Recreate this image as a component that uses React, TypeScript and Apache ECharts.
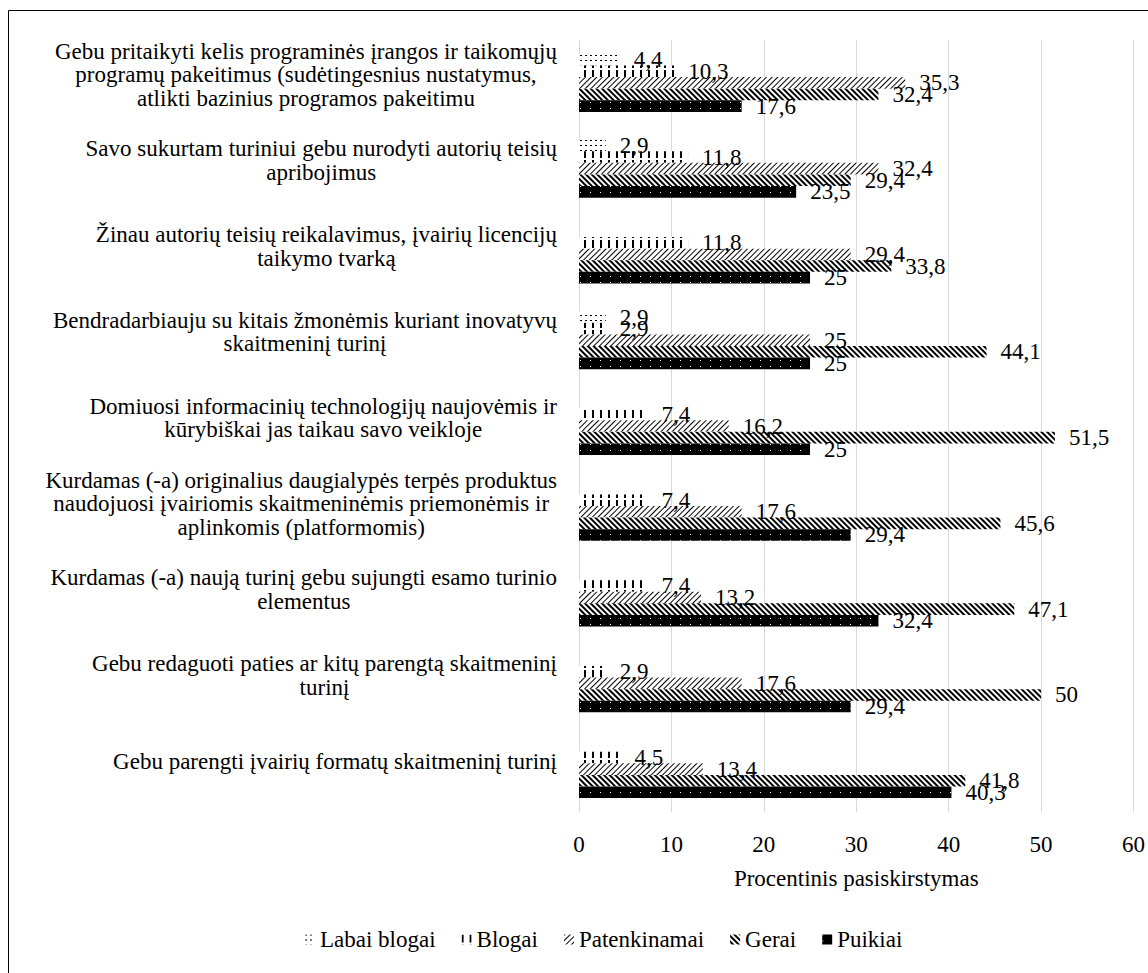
import React, { useEffect, useRef } from 'react';
import * as echarts from 'echarts';

const categories = [
  'Gebu pritaikyti kelis programinės įrangos ir taikomųjų\nprogramų pakeitimus (sudėtingesnius nustatymus,\natlikti bazinius programos pakeitimu',
  'Savo sukurtam turiniui gebu nurodyti autorių teisių\napribojimus',
  'Žinau autorių teisių reikalavimus, įvairių licencijų\ntaikymo tvarką',
  'Bendradarbiauju su kitais žmonėmis kuriant inovatyvų\nskaitmeninį turinį',
  'Domiuosi informacinių technologijų naujovėmis ir\nkūrybiškai jas taikau savo veikloje',
  'Kurdamas (-a) originalius daugialypės terpės produktus\nnaudojuosi įvairiomis skaitmeninėmis priemonėmis ir\naplinkomis (platformomis)',
  'Kurdamas (-a) naują turinį gebu sujungti esamo turinio\nelementus',
  'Gebu redaguoti paties ar kitų parengtą skaitmeninį\nturinį',
  'Gebu parengti įvairių formatų skaitmeninį turinį',
];

const seriesNames = ['Labai blogai', 'Blogai', 'Patenkinamai', 'Gerai', 'Puikiai'];
const labaiBlogai = [4.4, 2.9, null, 2.9, null, null, null, null, null];
const blogai = [10.3, 11.8, 11.8, 2.9, 7.4, 7.4, 7.4, 2.9, 4.5];
const patenkinamai = [35.3, 32.4, 29.4, 25, 16.2, 17.6, 13.2, 17.6, 13.4];
const gerai = [32.4, 29.4, 33.8, 44.1, 51.5, 45.6, 47.1, 50, 41.8];
const puikiai = [17.6, 23.5, 25, 25, 25, 29.4, 32.4, 29.4, 40.3];
const axisTitle = 'Procentinis pasiskirstymas';

const FONT = 'Liberation Serif, Times New Roman, serif';
const FS = 23;

const decals: any[] = [
  { symbol: 'rect', symbolSize: 1, dashArrayX: [2, 3], dashArrayY: [1, 4], color: '#000', backgroundColor: '#fff' },
  { symbol: 'rect', symbolSize: 1, dashArrayX: [1.5, 6], dashArrayY: [8, 2], color: '#000', backgroundColor: '#fff' },
  { symbol: 'rect', symbolSize: 1, dashArrayX: [1, 0], dashArrayY: [1, 3], rotation: -Math.PI / 4, color: '#000', backgroundColor: '#fff' },
  { symbol: 'rect', symbolSize: 1, dashArrayX: [1, 0], dashArrayY: [2, 2], rotation: Math.PI / 4, color: '#000', backgroundColor: '#fff' },
  { symbol: 'rect', symbolSize: 1, dashArrayX: [1, 9], dashArrayY: [1, 5], color: '#fff', backgroundColor: '#000' },
];

const seriesData = [labaiBlogai, blogai, patenkinamai, gerai, puikiai];

export default function App() {
  const ref = useRef<HTMLDivElement>(null);
  useEffect(() => {
    if (!ref.current) return;
    const chart = echarts.init(ref.current, undefined, { renderer: 'svg' });
    chart.setOption({
      animation: false,
      backgroundColor: '#fff',
      textStyle: { fontFamily: FONT },
      graphic: [
        {
          type: 'rect',
          shape: { x: 8.5, y: 10.5, width: 1400, height: 1400 },
          style: { fill: 'none', stroke: '#000', lineWidth: 1 },
          silent: true,
        },
      ],
      grid: { left: 579, right: 11, top: 40, bottom: 161, containLabel: false },
      xAxis: {
        type: 'value',
        min: 0,
        max: 60,
        interval: 10,
        axisLine: { show: false },
        axisTick: { show: false },
        splitLine: { show: true, lineStyle: { color: '#d9d9d9', width: 1 } },
        axisLabel: { fontFamily: FONT, fontSize: FS, color: '#000', margin: 21 },
        name: axisTitle,
        nameLocation: 'middle',
        nameGap: 55,
        nameTextStyle: { fontFamily: FONT, fontSize: FS, color: '#000' },
      },
      yAxis: {
        type: 'category',
        inverse: true,
        data: categories,
        axisLine: { show: false },
        axisTick: { show: false },
        axisLabel: {
          margin: 22,
          padding: [0, 0, 16, 0],
          formatter: (v: string) => v.split('\n').map((l) => `{c|${l}}`).join('\n'),
          rich: { c: { align: 'center', fontFamily: FONT, fontSize: FS, lineHeight: 23.5, color: '#000' } },
        },
      },
      legend: {
        bottom: 17,
        left: 300,
        icon: 'rect',
        itemWidth: 10,
        itemHeight: 10,
        itemGap: 26,
        textStyle: { fontFamily: FONT, fontSize: FS, color: '#000' },
        data: seriesNames,
      },
      series: seriesNames.map((name, i) => ({
        name,
        type: 'bar',
        data: seriesData[i],
        barWidth: 11.6,
        barGap: '0%',
        itemStyle: { color: i === 4 ? '#000' : '#fff', decal: decals[i] },
        label: {
          show: true,
          position: 'right',
          distance: 14,
          fontFamily: FONT,
          fontSize: FS,
          color: '#000',
          formatter: (p: any) => (p.value == null ? '' : String(p.value).replace('.', ',')),
        },
      })),
    });
    return () => chart.dispose();
  }, []);
  return (
    <div
      ref={ref}
      style={{ position: 'fixed', left: 0, top: 0, width: 1148, height: 973, background: '#fff' }}
    />
  );
}
